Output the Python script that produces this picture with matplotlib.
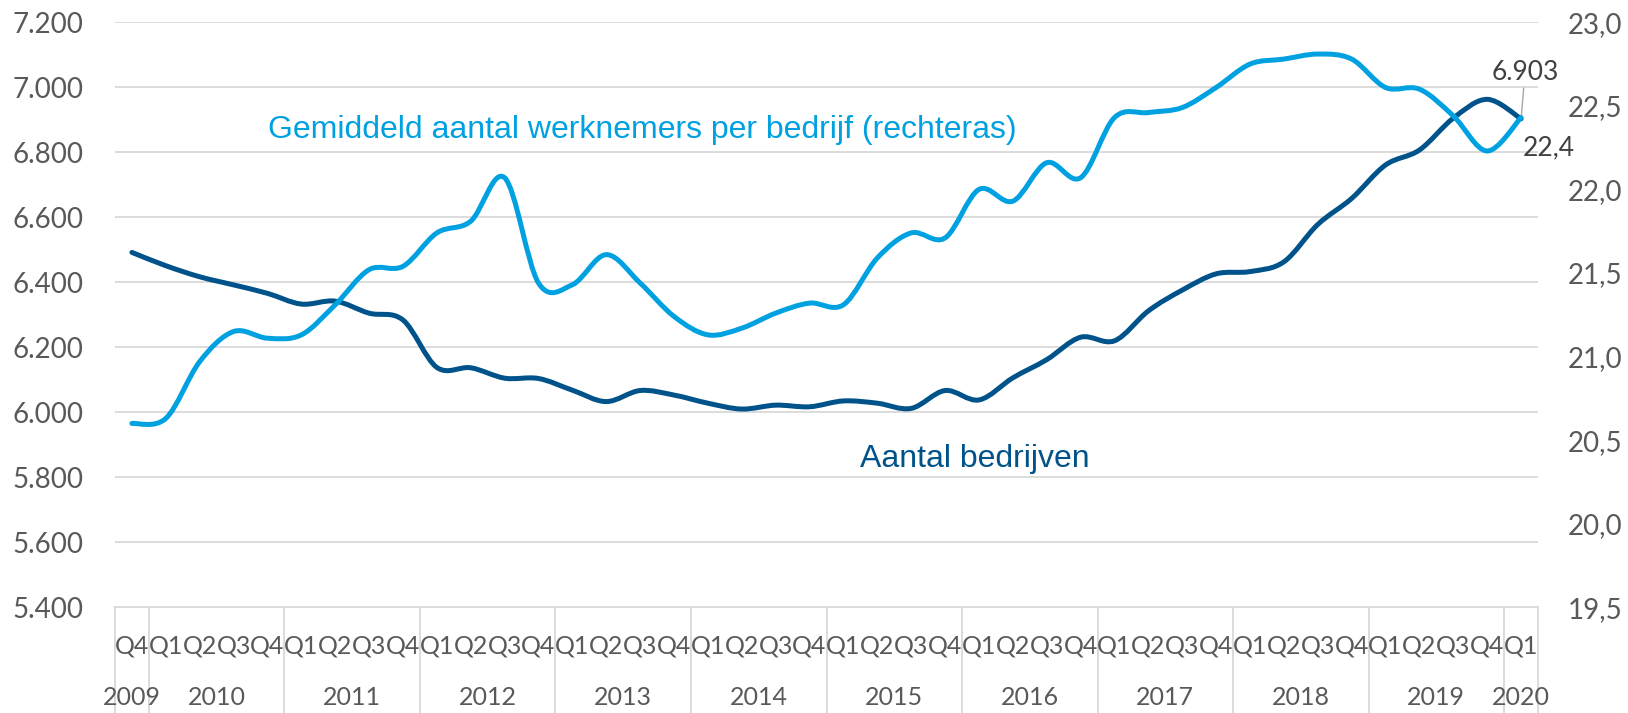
import matplotlib
matplotlib.use("Agg")
import matplotlib.pyplot as plt
from matplotlib.path import Path
from matplotlib.patches import PathPatch
from matplotlib.ticker import FuncFormatter, FixedLocator
import matplotlib.transforms as mtransforms
import numpy as np

# ---------------- data ----------------
years = ["2009", "2010", "2011", "2012", "2013", "2014", "2015", "2016",
         "2017", "2018", "2019", "2020"]
quarters_per_year = [["Q4"]] + [["Q1", "Q2", "Q3", "Q4"]] * 10 + [["Q1"]]
quarter_labels = [q for qs in quarters_per_year for q in qs]

aantal_bedrijven = [6492, 6451, 6417, 6392, 6366, 6333, 6342, 6305, 6284,
                    6138, 6137, 6105, 6104, 6068, 6033, 6067, 6053, 6028,
                    6010, 6022, 6017, 6035, 6028, 6012, 6067, 6038, 6106,
                    6162, 6231, 6220, 6312, 6376, 6426, 6433, 6463, 6578,
                    6658, 6761, 6807, 6905, 6963, 6903]

gem_werknemers = [20.60, 20.63, 20.97, 21.15, 21.11, 21.13, 21.31, 21.52,
                  21.54, 21.74, 21.81, 22.07, 21.44, 21.43, 21.61, 21.44,
                  21.24, 21.13, 21.17, 21.26, 21.32, 21.31, 21.59, 21.74,
                  21.71, 22.00, 21.93, 22.16, 22.07, 22.43, 22.46, 22.49,
                  22.61, 22.75, 22.78, 22.81, 22.78, 22.61, 22.60, 22.44,
                  22.23, 22.43]

left_ticks = [5400, 5600, 5800, 6000, 6200, 6400, 6600, 6800, 7000, 7200]
right_ticks = [19.5, 20.0, 20.5, 21.0, 21.5, 22.0, 22.5, 23.0]

# ---------------- style ----------------
DARK = "#00538A"
LIGHT = "#00A1E1"
GRID = "#D9D9D9"
TXT = "#595959"
TICKFONT = "Lato"
ANNFONT = "Liberation Sans"

W, H = 1628, 713
PX = 72 / 100  # points per pixel at dpi 100
fig = plt.figure(figsize=(W / 100, H / 100), dpi=100)
ax = fig.add_axes([115 / W, 1 - 607.3 / H, (1538 - 115) / W, (607.3 - 22.3) / H])
ax2 = ax.twinx()

n = len(aantal_bedrijven)
x = np.arange(n)


def smooth_patch(xs, ys, color, lw):
    pts = np.column_stack([xs, ys]).astype(float)
    verts = [tuple(pts[0])]
    codes = [Path.MOVETO]
    m = len(pts)
    for i in range(m - 1):
        p0 = pts[i - 1] if i > 0 else pts[i]
        p1 = pts[i]
        p2 = pts[i + 1]
        p3 = pts[i + 2] if i + 2 < m else pts[i + 1]
        c1 = p1 + (p2 - p0) / 6.0
        c2 = p2 - (p3 - p1) / 6.0
        verts += [tuple(c1), tuple(c2), tuple(p2)]
        codes += [Path.CURVE4] * 3
    return PathPatch(Path(verts, codes), fill=False, edgecolor=color, lw=lw,
                     capstyle="round", joinstyle="round", zorder=3)


ax.set_xlim(-0.5, n - 0.5)
ax.set_ylim(5400, 7200)
ax2.set_ylim(19.5, 23.0)

# gridlines
for t in left_ticks[1:]:
    ax.axhline(t, color=GRID, lw=1.3, zorder=0)

ax.add_patch(smooth_patch(x, aantal_bedrijven, DARK, 3.6))
ax2.add_patch(smooth_patch(x, gem_werknemers, LIGHT, 3.6))

# spines
for s in ["top", "left", "right"]:
    ax.spines[s].set_visible(False)
    ax2.spines[s].set_visible(False)
ax2.spines["bottom"].set_visible(False)
ax.spines["bottom"].set_color(GRID)
ax.spines["bottom"].set_linewidth(1.3)

# left ticks
ax.yaxis.set_major_locator(FixedLocator(left_ticks))
ax.yaxis.set_major_formatter(FuncFormatter(lambda v, p: f"{int(round(v)):,}".replace(",", ".")))
ax.tick_params(axis="y", length=0, pad=32 * PX, labelsize=20, labelcolor=TXT)
for lab in ax.get_yticklabels():
    lab.set_fontfamily(TICKFONT)

# right ticks
ax2.yaxis.set_major_locator(FixedLocator(right_ticks))
ax2.yaxis.set_major_formatter(FuncFormatter(lambda v, p: f"{v:.1f}".replace(".", ",")))
ax2.tick_params(axis="y", length=0, pad=30 * PX, labelsize=20, labelcolor=TXT)
for lab in ax2.get_yticklabels():
    lab.set_fontfamily(TICKFONT)

# x quarter labels
ax.set_xticks(x)
ax.set_xticklabels(quarter_labels, fontsize=18, color=TXT, fontfamily=TICKFONT)
ax.tick_params(axis="x", length=0, pad=27 * PX)

# year labels and separators
trans = mtransforms.blended_transform_factory(ax.transData, ax.transAxes)
ybottom = -(H - 607.3) / (607.3 - 22.3)
start = 0
bounds = [-0.5]
for yr, qs in zip(years, quarters_per_year):
    cnt = len(qs)
    center = start + (cnt - 1) / 2.0
    ax.text(center, -0.154, yr, transform=trans, ha="center", va="center",
            fontsize=18, color=TXT, fontfamily=TICKFONT)
    start += cnt
    bounds.append(start - 0.5)
for b in bounds:
    ax.plot([b, b], [0, ybottom], transform=trans, color=GRID, lw=1.3,
            clip_on=False, zorder=0)

# series annotations
fig.text(268 / W, 1 - 138 / H, "Gemiddeld aantal werknemers per bedrijf (rechteras)",
         color=LIGHT, fontsize=23, fontfamily=ANNFONT, ha="left", va="baseline")
fig.text(860 / W, 1 - 467 / H, "Aantal bedrijven",
         color=DARK, fontsize=23, fontfamily=ANNFONT, ha="left", va="baseline")

# data labels
last = n - 1
ax.annotate(f"{aantal_bedrijven[last]:,}".replace(",", "."),
            xy=(last, aantal_bedrijven[last]), xytext=(4 * PX, 46 * PX),
            textcoords="offset points", ha="center", va="center",
            fontsize=19, color="#404040", fontfamily=TICKFONT,
            arrowprops=dict(arrowstyle="-", color="#A6A6A6", lw=1,
                            shrinkA=0, shrinkB=0), zorder=5)
ax2.annotate(f"{gem_werknemers[last]:.1f}".replace(".", ","),
             xy=(last, gem_werknemers[last]), xytext=(28 * PX, -30 * PX),
             textcoords="offset points", ha="center", va="center",
             fontsize=19, color="#404040", fontfamily=TICKFONT, zorder=5)

fig.savefig("out.png", dpi=100)
